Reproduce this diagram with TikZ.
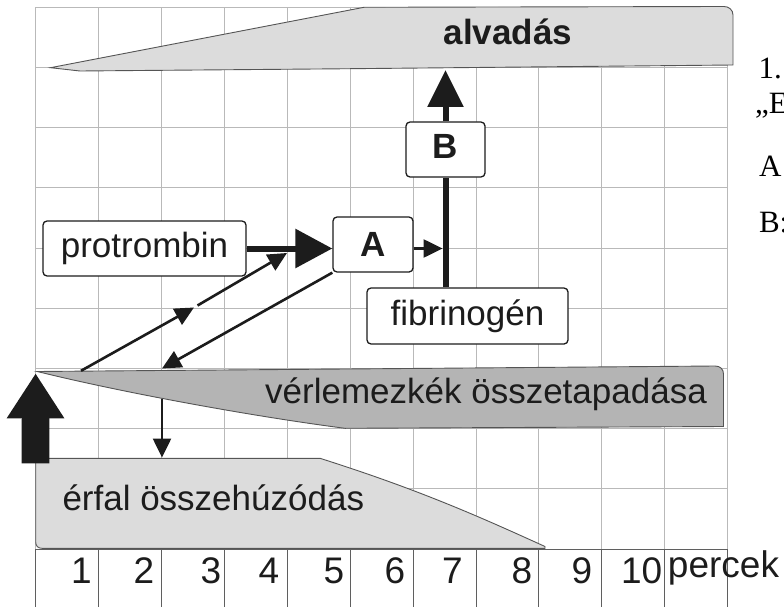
\documentclass[tikz,border=0pt]{standalone}
\usepackage{fontspec}
\setmainfont{Liberation Serif}
\setsansfont{Liberation Sans}
\usetikzlibrary{arrows.meta}

\definecolor{bandlight}{RGB}{220,220,220}
\definecolor{bandmid}{RGB}{180,180,180}
\definecolor{bandline}{RGB}{85,85,85}
\definecolor{gridgray}{RGB}{185,185,185}
\definecolor{axisgray}{RGB}{95,95,95}
\definecolor{ink}{RGB}{28,28,28}

\tikzset{
  gridline/.style={draw=gridgray, line width=0.9pt},
  axisline/.style={draw=axisgray, line width=0.9pt},
  band/.style={draw=bandline, line width=0.9pt},
  bandlabel/.style={anchor=base, inner sep=0pt, text=ink,
    font=\sffamily\fontsize{35}{35}\selectfont},
  factor/.style={draw=ink, fill=white, rounded corners=4pt, line width=1.3pt,
    inner sep=0pt, text=ink, font=\sffamily\fontsize{35}{35}\selectfont},
  heavyarrow/.style={draw=ink, line width=6pt, -{Triangle[length=37pt,width=38pt]}},
  thinarrow/.style={draw=ink, line width=2.6pt, -{Triangle[length=19pt,width=18pt]}},
  ticklabel/.style={anchor=base, inner sep=0pt, text=ink,
    font=\sffamily\fontsize{37}{37}\selectfont},
  sidenote/.style={anchor=base west, inner sep=0pt, text=black,
    font=\rmfamily\fontsize{31}{31}\selectfont},
}

\begin{document}
\begin{tikzpicture}[x=1pt,y=-1pt]
\useasboundingbox (0,0) rectangle (784,607);

% time grid
\foreach \i in {0,...,11} {
  \draw[gridline] ({35.7+62.9*\i},7.3) -- ({35.7+62.9*\i},549);
}
\foreach \j in {0,...,8} {
  \draw[gridline] (35.7,{7.3+60.19*\j}) -- (727.7,{7.3+60.19*\j});
}

% phase bands
\draw[band, fill=bandlight] (50.5,67.7) -- (364,7.3) -- (724,6.5)
  .. controls (729,6.5) and (733,10) .. (733,15) -- (733,65)
  -- (340,68.8) -- (80,71) -- cycle;
\draw[band, fill=bandmid] (37.3,371.5) -- (715,366)
  .. controls (720,366) and (723.5,369) .. (723.5,374) -- (723.5,426.5)
  -- (345,428.3) .. controls (250,416) and (120,392) .. cycle;
\draw[band, fill=bandlight] (35.7,458.3) -- (320,458.3)
  .. controls (420,490) and (480,517) .. (545,546.5) -- (545,548.3)
  -- (42,548.3) .. controls (38,548.3) and (35.7,546) .. (35.7,542) -- cycle;

% time axis
\foreach \i in {0,...,11} {
  \draw[axisline] ({35.7+62.9*\i},549) -- ({35.7+62.9*\i},607);
}
\draw[axisline] (35.7,549) -- (727.7,549);
\foreach \x/\t in {81.5/1,144/2,211/3,269/4,334/5,395/6,452.5/7,522/8,582/9,641.7/10} {
  \node[ticklabel] (tick\t) at (\x,583.5) {\t};
}
\node[ticklabel] (unit) at (723.5,577) {percek};

% band labels
\node[bandlabel, font=\sffamily\bfseries\fontsize{35}{35}\selectfont] (clotlbl) at (508,45) {alvadás};
\node[bandlabel] (pltlbl) at (486,403.3) {vérlemezkék összetapadása};
\node[bandlabel] (vessellbl) at (213.3,510) {érfal összehúzódás};

% factors
\node[factor, minimum width=203pt, minimum height=55pt] (pro) at (144.5,248.5) {protrombin};
\node[factor, minimum width=80pt, minimum height=55pt,
  font=\sffamily\bfseries\fontsize{35}{35}\selectfont] (A) at (373,244.5) {A};
\node[factor, minimum width=79pt, minimum height=55pt, text depth=7pt,
  font=\sffamily\bfseries\fontsize{35}{35}\selectfont] (B) at (445.5,149.5) {B};
\node[factor, minimum width=201pt, minimum height=56pt] (fib) at (467.5,316) {fibrinogén};

% connector ends
\coordinate (clot) at (445.5,70);
\coordinate (stemL) at (442.5,248.5);
\coordinate (pltA) at (81,370.8);
\coordinate (relay) at (194,307.5);
\coordinate (relay2) at (197.5,305.5);
\coordinate (proA) at (287,253);
\coordinate (pltB) at (162,368.5);
\coordinate (pltC) at (162,398.5);
\coordinate (vessel) at (162,457.5);
\coordinate (injury) at (35.5,463.3);
\coordinate (pltTip) at (35.6,373.3);

% connectors
\draw[heavyarrow] (pro.east) -- (pro.east -| A.west);
\draw[thinarrow] (A.east |- pro.east) -- (stemL);
\draw[draw=ink, line width=6pt] (fib.north -| B) -- (B.south);
\draw[draw=ink, line width=6pt, -{Triangle[length=37pt,width=35pt]}] (B.north) -- (clot);
\draw[thinarrow] (pltA) -- (relay);
\draw[thinarrow] (relay2) -- (proA);
\draw[thinarrow] (A.south west) -- (pltB);
\draw[thinarrow] (pltC) -- (vessel);
\draw[draw=ink, line width=27.6pt, -{Triangle[length=45pt,width=54.4pt]}] (injury) -- (pltTip);

% side text
\node[sidenote] (n1) at (758.3,78.3) {1.};
\node[sidenote] (n2) at (755,113.3) {„E};
\node[sidenote] (n3) at (758.8,176.7) {A};
\node[sidenote] (n4) at (758.8,232.7) {B:};
\end{tikzpicture}
\end{document}
